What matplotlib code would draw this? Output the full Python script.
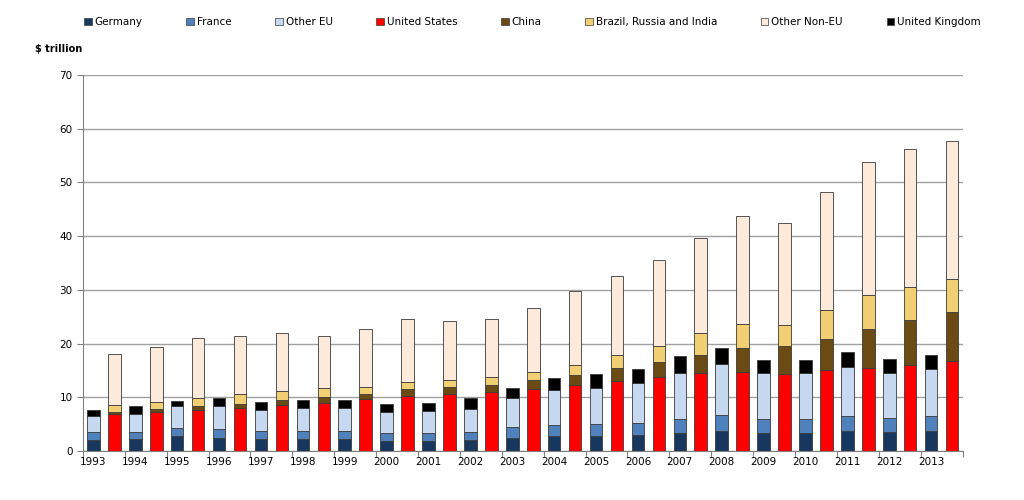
import matplotlib
matplotlib.use("Agg")
import matplotlib.pyplot as plt
import numpy as np

years = [str(y) for y in range(1993, 2014)]
# cumulative tops (left bar)
germany = [2.0,2.2,2.7,2.5,2.2,2.2,2.2,1.9,1.9,2.0,2.5,2.8,2.8,3.0,3.4,3.7,3.4,3.4,3.7,3.5,3.7]
france_top = [3.5,3.6,4.2,4.1,3.7,3.7,3.7,3.3,3.4,3.5,4.4,4.9,5.0,5.3,6.0,6.7,6.0,6.0,6.6,6.2,6.6]
othereu_top = [6.5,6.9,8.3,8.4,7.7,8.0,8.0,7.2,7.4,7.9,9.8,11.3,11.8,12.7,14.6,16.2,14.6,14.5,15.6,14.6,15.2]
uk_top = [7.7,8.3,9.4,9.8,9.2,9.5,9.5,8.8,8.9,9.8,11.8,13.6,14.3,15.3,17.7,19.1,17.0,16.9,18.4,17.2,17.9]
# right bar
us = [6.9,7.2,7.6,8.0,8.6,9.0,9.6,10.3,10.6,10.9,11.5,12.2,13.0,13.8,14.5,14.7,14.4,15.0,15.5,16.1,16.7]
china_top = [7.3,7.8,8.4,8.8,9.5,10.0,10.7,11.5,11.9,12.2,13.2,14.1,15.4,16.5,17.9,19.2,19.5,20.9,22.7,24.4,25.8]
bri_top = [8.5,9.1,9.9,10.7,11.2,11.7,11.9,12.9,13.2,13.8,14.8,16.1,17.8,19.6,21.9,23.7,23.5,26.2,29.0,30.5,32.1]
total_top = [18.0,19.4,21.0,21.5,21.9,21.5,22.7,24.5,24.2,24.6,26.7,29.8,32.6,35.6,39.7,43.8,42.5,48.3,53.8,56.2,57.7]

cols = {"Germany":"#17375E","France":"#4F81BD","Other EU":"#C6D9F1","United States":"#FF0000",
        "China":"#6B4A13","Brazil, Russia and India":"#F2CF73","Other Non-EU":"#FDEADA","United Kingdom":"#000000"}

fig = plt.figure(figsize=(10.24,5.0), dpi=100)
ax = fig.add_axes([0.081,0.098,0.859,0.752])
x = np.arange(len(years))
w = 0.3
xl = x+0.25; xr = x+0.75
kw = dict(width=w, edgecolor="#3a3a3a", linewidth=0.6)

def stack(xpos, tops, names):
    bottom = np.zeros(len(years))
    for t, n in zip(tops, names):
        t = np.array(t)
        ax.bar(xpos, t-bottom, bottom=bottom, color=cols[n], **kw)
        bottom = t

stack(xl, [germany, france_top, othereu_top, uk_top], ["Germany","France","Other EU","United Kingdom"])
stack(xr, [us, china_top, bri_top, total_top], ["United States","China","Brazil, Russia and India","Other Non-EU"])

ax.set_xlim(0, len(years))
ax.set_ylim(0, 70)
ax.set_yticks(range(0, 71, 10))
ax.yaxis.grid(True, color="#a0a0a0", linewidth=1)
ax.set_axisbelow(True)
ax.set_xticks(np.arange(0, len(years)+1), minor=False)
ax.set_xticklabels([])
ax.set_xticks(xl, minor=True)
ax.set_xticklabels(years, minor=True)
ax.tick_params(axis="x", which="minor", length=0, labelsize=7.5, pad=4)
ax.tick_params(axis="x", which="major", length=4, color="#808080")
ax.tick_params(axis="y", labelsize=7.5, length=4, color="#808080")
for s in ["top","right"]:
    ax.spines[s].set_visible(False)
for s in ["left","bottom"]:
    ax.spines[s].set_color("#808080")

fig.text(0.034, 0.895, "$ trillion", fontsize=7, fontweight="bold")
order = ["Germany","France","Other EU","United States","China","Brazil, Russia and India","Other Non-EU","United Kingdom"]
handles = [plt.Rectangle((0,0),1,1, facecolor=cols[n], edgecolor="#3a3a3a", linewidth=0.5) for n in order]
fig.legend(handles, order, loc="upper center", bbox_to_anchor=(0.52, 0.985), ncol=8, frameon=False,
           fontsize=7.5, handlelength=0.7, handleheight=0.7, handletextpad=0.3, columnspacing=4.2)
fig.savefig("out.png", dpi=100)
